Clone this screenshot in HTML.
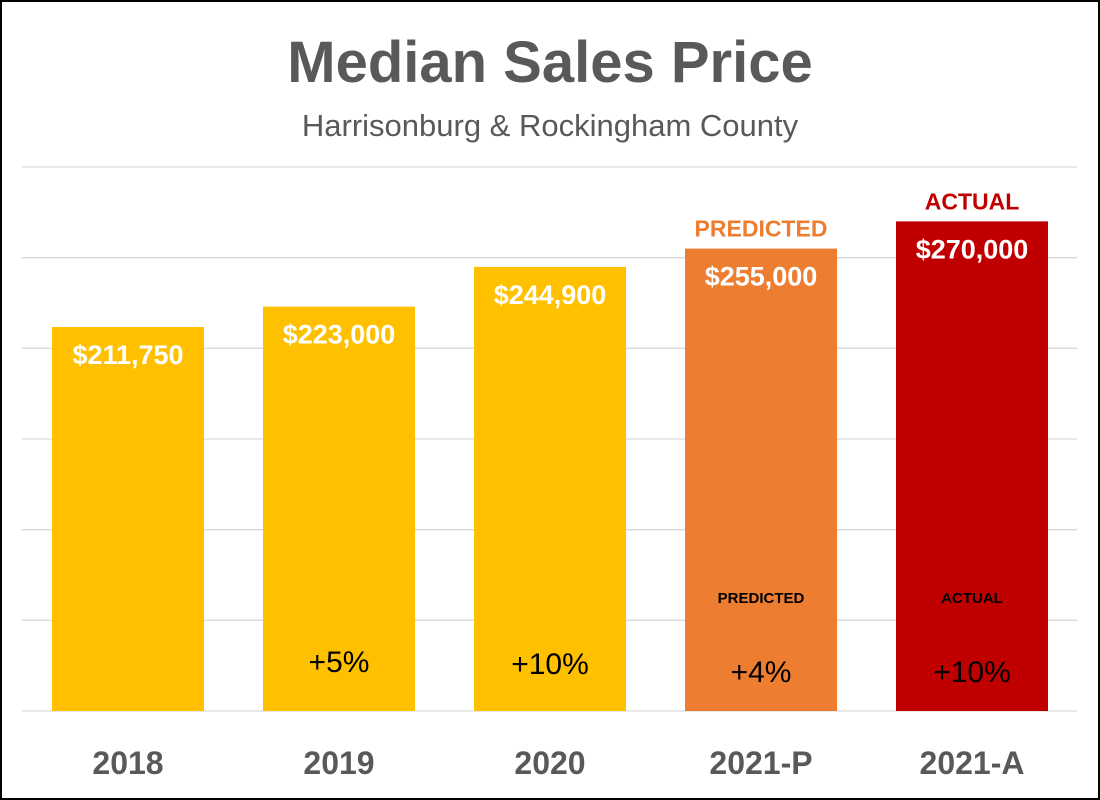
<!DOCTYPE html>
<html><head><meta charset="utf-8"><style>
body{margin:0;background:#fff;}
svg{display:block;font-family:"Liberation Sans",sans-serif;}
</style></head><body>
<svg id="chart" width="1100" height="800" viewBox="0 0 1100 800">
<rect x="1" y="1" width="1098" height="798" fill="#fff" stroke="#000" stroke-width="2"/>
<text x="550" y="82" text-anchor="middle" font-size="58" font-weight="bold" fill="#595959">Median Sales Price</text>
<text x="550" y="136" text-anchor="middle" font-size="31" fill="#595959">Harrisonburg &amp; Rockingham County</text>
<g id="grid"></g><g id="bars"></g>
</svg>
<script>
const categories=["2018","2019","2020","2021-P","2021-A"];
const values=[211750,223000,244900,255000,270000];
const valueLabels=["$211,750","$223,000","$244,900","$255,000","$270,000"];
const changeLabels=["","+5%","+10%","+4%","+10%"];
const changeTags=["","","","PREDICTED","ACTUAL"];
const topTags=["","","","PREDICTED","ACTUAL"];
const colors=["#FFC000","#FFC000","#FFC000","#ED7D31","#C00000"];
const tagColors=["","","","#ED7D31","#C00000"];
const gridTicks=[0,50000,100000,150000,200000,250000,300000];
const NS="http://www.w3.org/2000/svg";
const y0=711,yMax=300000,plotH=544;
const y=v=>y0-v/yMax*plotH;
const x=i=>52+i*211;
const bw=152;
function mk(t,a,p){const e=document.createElementNS(NS,t);for(const k in a)e.setAttribute(k,a[k]);p.appendChild(e);return e;}
const g=document.getElementById('grid'),b=document.getElementById('bars');
gridTicks.forEach(v=>{const l=mk('line',{x1:22,x2:1077,y1:y(v),y2:y(v),stroke:'#d9d9d9','stroke-width':1.3},g);

});
categories.forEach((c,i)=>{
const cx=x(i)+bw/2;
const r=mk('rect',{x:x(i),y:y(values[i]),width:bw,height:y0-y(values[i]),fill:colors[i]},b);


const vt=mk('text',{x:cx,y:y(values[i])+37,'text-anchor':'middle','font-size':27,'font-weight':'bold',fill:'#fff'},b);vt.textContent=valueLabels[i];


const ct=mk('text',{x:cx,y:y0-29-(i===1?10:i===2?8:0),'text-anchor':'middle','font-size':30,fill:'#000'},b);ct.textContent=changeLabels[i];


if(changeTags[i]){const tt=mk('text',{x:cx,y:y0-108,'text-anchor':'middle','font-size':15,'font-weight':'bold',fill:'#000'},b);tt.textContent=changeTags[i];

}
if(topTags[i]){const tp=mk('text',{x:cx,y:y(values[i])-12,'text-anchor':'middle','font-size':23,'font-weight':'bold',fill:tagColors[i]},b);tp.textContent=topTags[i];

}
const xl=mk('text',{x:cx,y:774,'text-anchor':'middle','font-size':32,'font-weight':'bold',fill:'#595959'},b);xl.textContent=c;


});
</script>
</body></html>
